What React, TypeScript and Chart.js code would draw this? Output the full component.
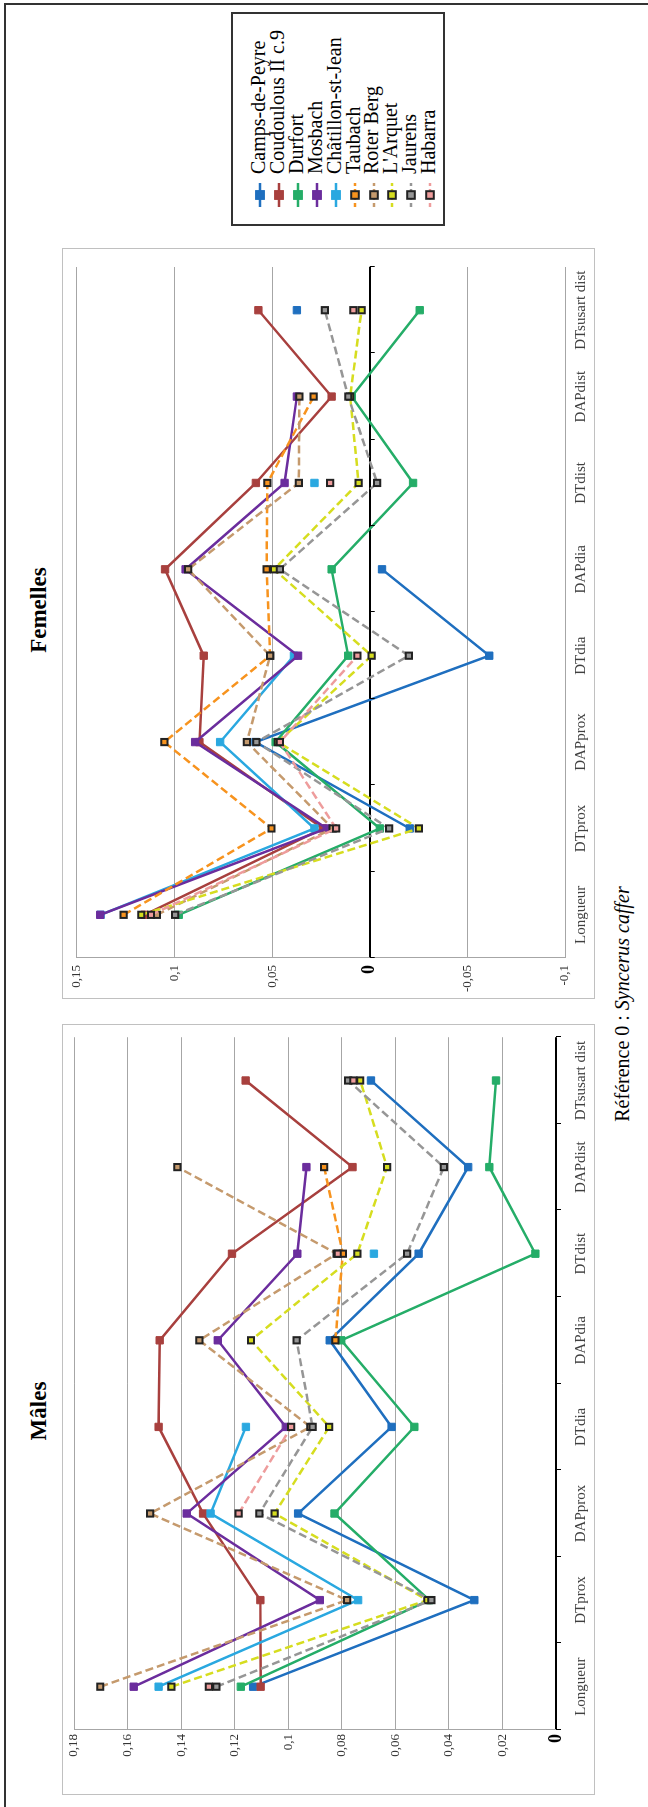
import React, { useEffect, useRef } from 'react';
import { Chart, registerables } from 'chart.js';

Chart.register(...registerables);

// ---------- DATA ----------
const categories = ['Longueur', 'DTprox', 'DAPprox', 'DTdia', 'DAPdia', 'DTdist', 'DAPdist', 'DTsusart dist'];
const seriesNames = ['Camps-de-Peyre', 'Coudoulous II c.9', 'Durfort', 'Mosbach', 'Châtillon-st-Jean', 'Taubach', 'Roter Berg', "L'Arquet", 'Jaurens', 'Habarra'];

// Mâles
const malesCamps = [0.1131, 0.0305, 0.0963, 0.0614, 0.0845, 0.0513, 0.0328, 0.0691];
const malesCoudoulous = [0.1103, 0.1104, 0.1318, 0.1484, 0.148, 0.121, 0.076, 0.1159];
const malesDurfort = [0.1177, 0.0473, 0.0827, 0.0529, 0.0802, 0.0077, 0.0249, 0.0224];
const malesMosbach = [0.1577, 0.0882, 0.1379, 0.1009, 0.1263, 0.0966, 0.0932, null];
const malesChatillon = [0.1484, 0.0739, 0.129, 0.1158, null, 0.068, null, null];
const malesTaubach = [null, null, null, null, 0.0824, 0.0796, 0.0866, null];
const malesRoterBerg = [0.1702, 0.078, 0.1516, 0.0917, 0.1332, 0.0819, 0.1414, null];
const malesArquet = [0.1436, 0.048, 0.1051, 0.0847, 0.1139, 0.0742, 0.0631, 0.0731];
const malesJaurens = [0.1268, 0.0465, 0.1108, 0.0909, 0.0969, 0.0556, 0.0419, 0.0776];
const malesHabarra = [0.1296, null, 0.1185, 0.0989, null, 0.0815, null, 0.0757];

// Femelles
const femCamps = [null, -0.0205, 0.0585, -0.0612, -0.0063, null, null, 0.0373];
const femCoudoulous = [0.1153, 0.024, 0.0872, 0.085, 0.1048, 0.0583, 0.0195, 0.057];
const femDurfort = [0.0978, -0.0052, 0.0482, 0.011, 0.0195, -0.0222, 0.0092, -0.0256];
const femMosbach = [0.138, 0.022, 0.0894, 0.0367, 0.0943, 0.0436, 0.0373, null];
const femChatillon = [0.1378, 0.0283, 0.0766, 0.0388, null, 0.0283, null, null];
const femTaubach = [0.126, 0.0503, 0.1052, 0.051, 0.0528, 0.0524, 0.0287, null];
const femRoterBerg = [0.109, 0.019, 0.0629, 0.051, 0.093, 0.0363, 0.036, null];
const femArquet = [0.117, -0.0252, 0.047, -0.001, 0.049, 0.0057, 0.01, 0.0042];
const femJaurens = [0.0996, -0.0099, 0.058, -0.02, 0.046, -0.0038, 0.011, 0.023];
const femHabarra = [0.112, 0.0172, 0.046, 0.0063, null, 0.0203, null, 0.0084];

const malesSeries = [malesCamps, malesCoudoulous, malesDurfort, malesMosbach, malesChatillon, malesTaubach, malesRoterBerg, malesArquet, malesJaurens, malesHabarra];
const femSeries = [femCamps, femCoudoulous, femDurfort, femMosbach, femChatillon, femTaubach, femRoterBerg, femArquet, femJaurens, femHabarra];

const malesTicks = { min: 0, max: 0.18, step: 0.02 };
const femTicks = { min: -0.1, max: 0.15, step: 0.05 };

// ---------- STYLES ----------
const colors = ['#1f6fbf', '#a8403e', '#25ad68', '#6b2d9d', '#2aa8e0', '#f7931e', '#c59a6d', '#d6dd1f', '#969696', '#ee9c9c'];
const dashed = [false, false, false, false, false, true, true, true, true, true];
// stacking rank (higher = drawn later, on top)
const zRank = [0, 1, 2, 4, 3, 5, 6, 7, 8, 9];
const SERIF = '"Liberation Serif", "Times New Roman", serif';

const zeroTicks = {
  id: 'zeroTicks',
  afterDatasetsDraw(chart: any) {
    const { ctx, chartArea, scales } = chart;
    const y0 = scales.y.getPixelForValue(0);
    const n = categories.length;
    ctx.save();
    ctx.strokeStyle = '#000';
    ctx.lineWidth = 1;
    for (let i = 0; i <= n; i++) {
      const x = Math.round(chartArea.left + ((chartArea.right - chartArea.left) * i) / n) + 0.5;
      ctx.beginPath();
      ctx.moveTo(x, y0);
      ctx.lineTo(x, y0 + 5);
      ctx.stroke();
    }
    ctx.restore();
  },
};

function fmt(v: number) {
  const r = Number(v.toFixed(2));
  return String(r).replace('.', ',');
}

type ChartProps = {
  series: (number | null)[][];
  ticks: { min: number; max: number; step: number };
  width: number;
  height: number;
  padding: { left: number; right: number; top: number; bottom: number };
  yWidth: number;
  xHeight: number;
  yPad: number;
  xPad: number;
};

function LineChart(p: ChartProps) {
  const ref = useRef<HTMLCanvasElement>(null);
  useEffect(() => {
    if (!ref.current) return;
    const datasets = p.series.map((data, i) => ({
      label: seriesNames[i],
      data,
      borderColor: colors[i],
      backgroundColor: colors[i],
      borderWidth: 2.5,
      borderDash: dashed[i] ? [8, 4] : [],
      pointStyle: 'rect',
      pointRadius: dashed[i] ? 4.4 : 5.2,
      pointHoverRadius: dashed[i] ? 4.4 : 5.2,
      pointBackgroundColor: colors[i],
      pointBorderColor: dashed[i] ? '#222' : colors[i],
      pointBorderWidth: dashed[i] ? 2 : 1,
      tension: 0,
      spanGaps: false,
      order: 20 - zRank[i],
    }));
    const chart = new Chart(ref.current, {
      type: 'line',
      data: { labels: categories, datasets },
      options: {
        animation: false,
        responsive: false,
        devicePixelRatio: 1,
        layout: { padding: p.padding },
        plugins: { legend: { display: false }, tooltip: { enabled: false } },
        events: [],
        scales: {
          x: {
            type: 'category',
            offset: true,
            grid: { display: false, drawTicks: false },
            border: { display: false },
            ticks: {
              autoSkip: false,
              maxRotation: 0,
              minRotation: 0,
              padding: p.xPad,
              color: '#404040',
              font: { family: SERIF, size: 15 },
            },
            afterFit: (s: any) => {
              s.height = p.xHeight;
            },
          },
          y: {
            min: p.ticks.min,
            max: p.ticks.max,
            ticks: {
              stepSize: p.ticks.step,
              padding: p.yPad,
              color: (c: any) => (c.tick && Math.abs(c.tick.value) < 1e-9 ? '#000' : '#333'),
              font: (c: any) =>
                c.tick && Math.abs(c.tick.value) < 1e-9
                  ? { family: SERIF, size: 18, weight: 'bold' }
                  : { family: SERIF, size: 13 },
              callback: (v: any) => fmt(Number(v)),
            },
            grid: {
              drawTicks: false,
              color: (c: any) => (c.tick && Math.abs(c.tick.value) < 1e-9 ? '#000' : '#a6a6a6'),
              lineWidth: (c: any) => (c.tick && Math.abs(c.tick.value) < 1e-9 ? 2 : 1),
            },
            border: { display: true, color: '#a6a6a6', width: 1 },
            afterFit: (s: any) => {
              s.width = p.yWidth;
            },
          },
        },
      },
      plugins: [zeroTicks],
    } as any);
    return () => chart.destroy();
  }, []);
  return <canvas ref={ref} width={p.width} height={p.height} style={{ width: p.width, height: p.height, display: 'block' }} />;
}

function LegendSample({ i }: { i: number }) {
  const c = colors[i];
  return (
    <svg width={26} height={14} style={{ display: 'block' }}>
      <line x1={1} y1={7} x2={25} y2={7} stroke={c} strokeWidth={2.5} strokeDasharray={dashed[i] ? '4 3' : undefined} />
      {dashed[i] ? (
        <rect x={9.2} y={3.2} width={7.6} height={7.6} fill={c} stroke="#222" strokeWidth={2} />
      ) : (
        <rect x={8.6} y={2.6} width={8.8} height={8.8} fill={c} stroke={c} strokeWidth={1} />
      )}
    </svg>
  );
}

export default function App() {
  const legendRow0 = 260.3;
  const legendStep = 18.88;
  return (
    <div style={{ position: 'fixed', left: 0, top: 0, width: 648, height: 1807, overflow: 'hidden', background: '#fff' }}>
      <div
        style={{
          position: 'absolute',
          left: 0,
          top: 0,
          width: 1807,
          height: 648,
          transformOrigin: '0 0',
          transform: 'translateY(1807px) rotate(-90deg)',
          fontFamily: SERIF,
          color: '#000',
          background: '#fff',
        }}
      >
        {/* outer border (top and right edges in this frame) */}
        <div style={{ position: 'absolute', left: -10, top: 4, width: 1814, height: 700, boxSizing: 'border-box', borderTop: '2px solid #333', borderRight: '2px solid #333' }} />

        {/* Mâles chart */}
        <div style={{ position: 'absolute', left: 12, top: 62 }}>
          <LineChart
            series={malesSeries}
            ticks={malesTicks}
            width={771}
            height={533}
            padding={{ left: 0, right: 13, top: 12, bottom: 0 }}
            yWidth={65}
            xHeight={39}
            yPad={4}
            xPad={16}
          />
        </div>
        <div style={{ position: 'absolute', left: 12, top: 62, width: 771, height: 533, boxSizing: 'border-box', border: '1.5px solid #c0c0c0' }} />

        {/* Femelles chart */}
        <div style={{ position: 'absolute', left: 808, top: 62 }}>
          <LineChart
            series={femSeries}
            ticks={femTicks}
            width={751}
            height={533}
            padding={{ left: 0, right: 19, top: 10, bottom: 0 }}
            yWidth={41}
            xHeight={30}
            yPad={7}
            xPad={7}
          />
        </div>
        <div style={{ position: 'absolute', left: 808, top: 62, width: 751, height: 533, boxSizing: 'border-box', border: '1.5px solid #c0c0c0' }} />

        {/* titles */}
        <div style={{ position: 'absolute', left: 296, top: 27, width: 200, textAlign: 'center', fontSize: 23, lineHeight: '23px', fontWeight: 'bold' }}>Mâles</div>
        <div style={{ position: 'absolute', left: 1097, top: 27, width: 200, textAlign: 'center', fontSize: 23, lineHeight: '23px', fontWeight: 'bold' }}>Femelles</div>

        {/* caption */}
        <div style={{ position: 'absolute', left: 553, top: 612, width: 500, textAlign: 'center', fontSize: 20, lineHeight: '20px', whiteSpace: 'nowrap' }}>
          Référence 0 : <i>Syncerus caffer</i>
        </div>

        {/* legend */}
        <div style={{ position: 'absolute', left: 1581, top: 231, width: 214, height: 214, boxSizing: 'border-box', border: '2px solid #333' }} />
        {seriesNames.map((name, i) => {
          const cy = legendRow0 + legendStep * i;
          return (
            <React.Fragment key={name}>
              <div style={{ position: 'absolute', left: 1599, top: cy - 7 }}>
                <LegendSample i={i} />
              </div>
              <div style={{ position: 'absolute', left: 1633, top: cy - 12.15, fontSize: 20, lineHeight: '20px', whiteSpace: 'nowrap' }}>{name}</div>
            </React.Fragment>
          );
        })}
      </div>
    </div>
  );
}
